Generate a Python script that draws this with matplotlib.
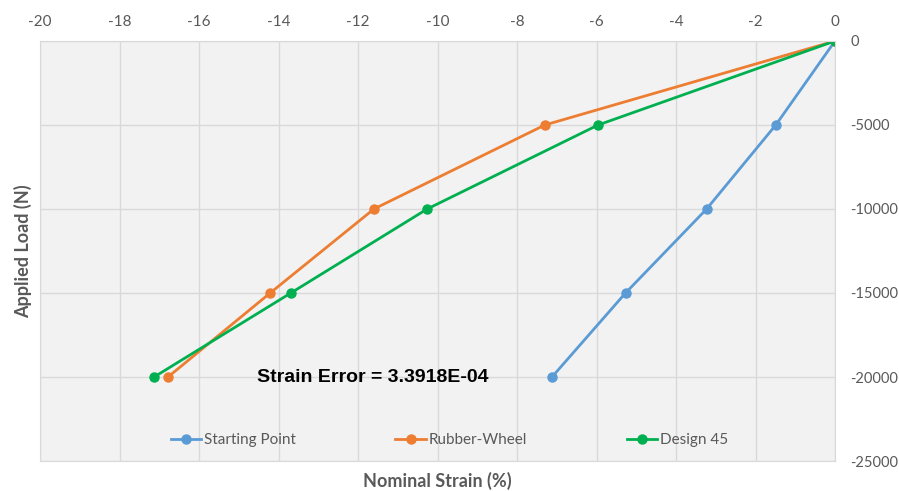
import matplotlib.pyplot as plt
from matplotlib.ticker import MultipleLocator

# load steps (N) and measured nominal strain (%) for each design
load = [0, -5000, -10000, -15000, -20000]
strain_start = [0, -1.49, -3.23, -5.27, -7.12]
strain_rubber = [0, -7.30, -11.60, -14.21, -16.78]
strain_d45 = [0, -5.96, -10.26, -13.69, -17.13]
series_names = ["Starting Point", "Rubber-Wheel", "Design 45"]
strain_error = "3.3918E-04"

colors = ["#5B9BD5", "#ED7D31", "#00B050"]
text_gray = "#595959"

plt.rcParams["font.family"] = ["Lato", "DejaVu Sans"]
plt.rcParams["axes.unicode_minus"] = False

fig = plt.figure(figsize=(8.99, 4.91), dpi=100)
ax = fig.add_axes([40 / 899, 1 - 461 / 491, 795 / 899, 420 / 491])
ax.set_facecolor("#F2F2F2")

for strain, name, c in zip([strain_start, strain_rubber, strain_d45], series_names, colors):
    ax.plot(strain, load, color=c, lw=2, marker="o", ms=6.5, label=name)

ax.set_xlim(-20, 0)
ax.set_ylim(-25000, 0)
ax.xaxis.set_major_locator(MultipleLocator(2))
ax.yaxis.set_major_locator(MultipleLocator(5000))
ax.xaxis.tick_top()
ax.yaxis.tick_right()
ax.xaxis.set_label_position("bottom")
ax.tick_params(length=0, colors=text_gray, labelsize=11)
ax.tick_params(axis="x", pad=9)
ax.tick_params(axis="y", pad=11, labelsize=10.5)
ax.grid(True, color="#D9D9D9", lw=1)
ax.set_axisbelow(True)
for s in ax.spines.values():
    s.set_color("#D9D9D9")

ax.set_xlabel("Nominal Strain (%)", fontsize=13, fontweight="bold", color=text_gray, labelpad=8)
ax.set_ylabel("Applied Load (N)", fontsize=13, fontweight="bold", color=text_gray, labelpad=6)

ax.text(-14.54, -20000, f"Strain Error = {strain_error}", fontsize=14, fontweight="bold",
        family="Liberation Sans", color="black", ha="left", va="center")

ax.legend(loc="lower center", bbox_to_anchor=(0.515, 0.0), ncol=3, frameon=False,
          fontsize=11, labelcolor=text_gray, columnspacing=6.5, handlelength=2, handletextpad=0.2)

fig.savefig("out.png", dpi=100)
